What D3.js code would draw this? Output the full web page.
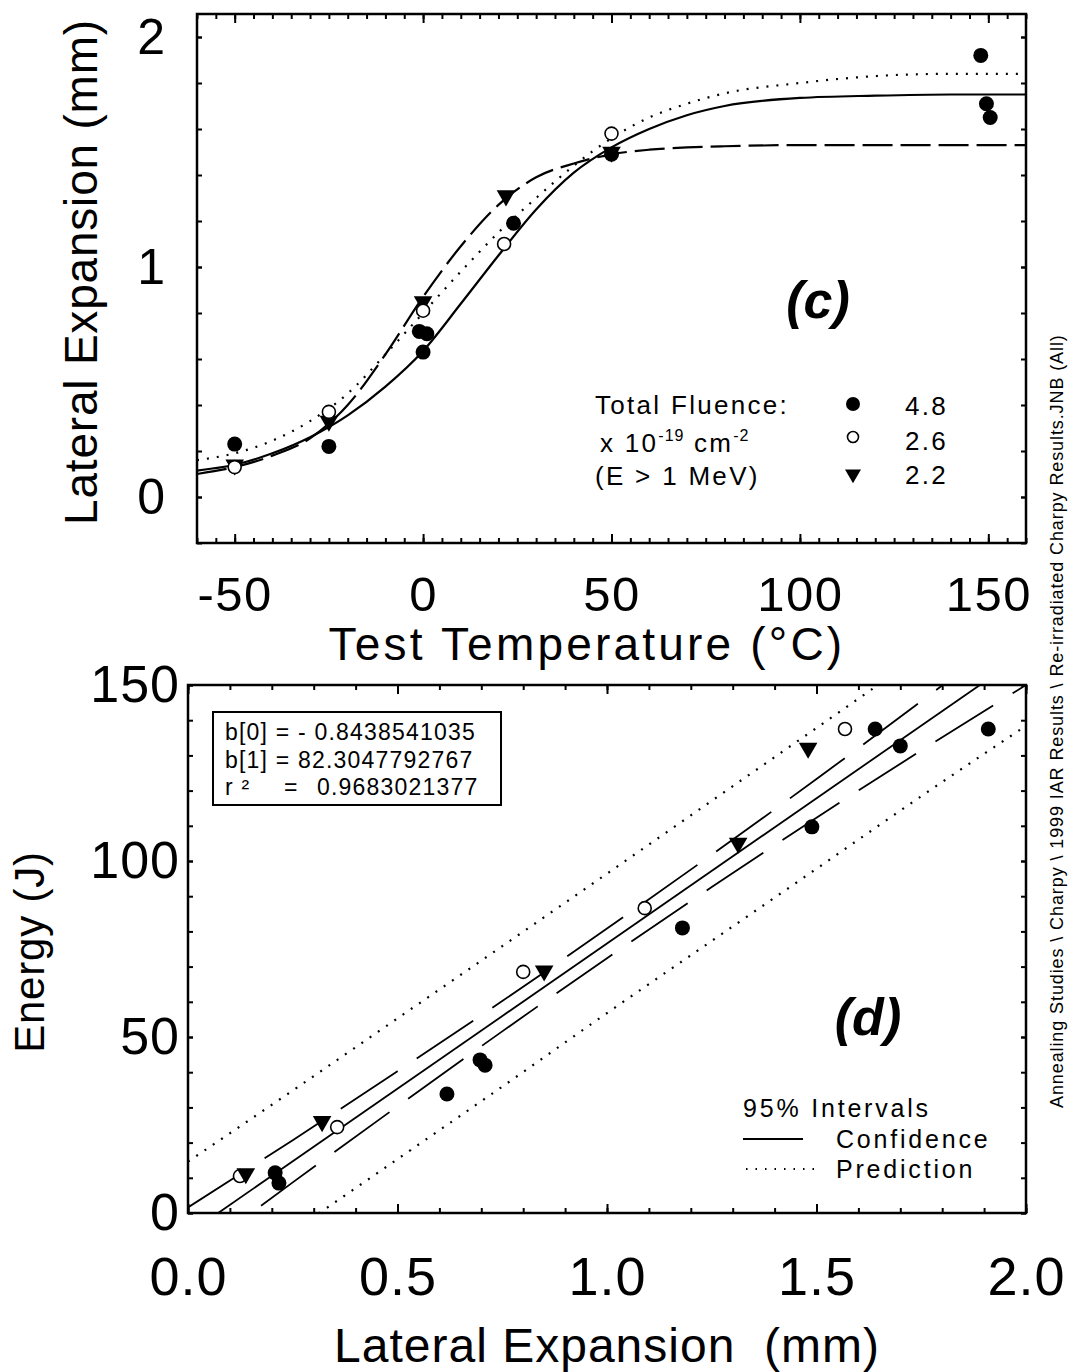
<!DOCTYPE html>
<html>
<head>
<meta charset="utf-8">
<script src="https://cdn.jsdelivr.net/npm/d3@7"></script>
<style>
body { margin: 0; background: #fff; }
text { font-family: "Liberation Sans", Arial, sans-serif; fill: #000; }
</style>
</head>
<body>
<svg id="chart" width="1069" height="1372"></svg>
<script>
// ---- panel (c): lateral expansion vs test temperature ----
let fullT = [-50, -25, -1, 1, 0, 24, 50, 148, 149.5, 150.5];
let fullLE = [0.23, 0.22, 0.72, 0.71, 0.63, 1.19, 1.49, 1.92, 1.71, 1.65];
let openT = [-50, -25, 0, 21.5, 50];
let openLE = [0.13, 0.37, 0.81, 1.10, 1.58];
let triT = [-50, -25, 0, 22, 50];
let triLE = [0.14, 0.33, 0.85, 1.31, 1.50];

// fitted curves
let curveT = [-60, -50, -40, -30, -20, -10, 0, 10, 20, 30, 40, 50, 60, 70, 80, 100, 120, 140, 160];
let fit48 = [0.115, 0.14, 0.19, 0.26, 0.355, 0.48, 0.635, 0.84, 1.05, 1.25, 1.41, 1.52, 1.60, 1.66, 1.70, 1.735, 1.745, 1.75, 1.75];
let fit26 = [0.16, 0.19, 0.245, 0.33, 0.45, 0.62, 0.80, 0.98, 1.15, 1.30, 1.44, 1.56, 1.65, 1.71, 1.755, 1.80, 1.83, 1.84, 1.84];
let fit22 = [0.10, 0.13, 0.18, 0.255, 0.40, 0.62, 0.87, 1.09, 1.27, 1.39, 1.45, 1.49, 1.51, 1.52, 1.525, 1.53, 1.53, 1.53, 1.53];

let tempTicks = [-50, 0, 50, 100, 150];
let leTicks = [0, 1, 2];
let fluence = ["4.8", "2.6", "2.2"];

// ---- panel (d): energy vs lateral expansion ----
let fullX = [0.208, 0.217, 0.618, 0.697, 0.709, 1.18, 1.489, 1.64, 1.70, 1.91];
let fullE = [11.4, 8.5, 33.8, 43.5, 42.0, 81.0, 109.7, 137.5, 132.7, 137.5];
let openX = [0.124, 0.356, 0.80, 1.09, 1.568];
let openE = [10.5, 24.4, 68.5, 86.6, 137.5];
let triX = [0.138, 0.32, 0.85, 1.313, 1.48];
let triE = [11.2, 26.0, 68.8, 105.1, 132.1];

let regX = [0.072, 1.89];
let regE = [0, 150];
let bandX = [0, 0.25, 0.5, 0.75, 1.0, 1.25, 1.5, 1.75, 2.0];
let confHi = [1.6, 20.7, 40.3, 60.2, 80.8, 101.8, 123.3, 145.4, 168];
let confLo = [-13.4, 8.7, 30.3, 51.6, 72.4, 92.6, 112.3, 131.4, 150];
let predHi = [14.6, 34.8, 55.3, 75.8, 96.4, 117.1, 137.8, 158.6, 179.6];
let predLo = [-26.4, -5.3, 15.3, 35.9, 56.8, 77.3, 97.8, 118.4, 138.4];

let leTicksD = [0, 0.5, 1, 1.5, 2];
let energyTicks = [0, 50, 100, 150];
let boxLines = ["b[0] = - 0.8438541035", "b[1] = 82.3047792767"];
let rSquared = "0.9683021377";

let sideNote = "Annealing Studies \\ Charpy \\ 1999 IAR Results \\ Re-irradiated Charpy Results.JNB (All)";

var svg = d3.select("#chart");
svg.append("rect").attr("width", 1069).attr("height", 1372).attr("fill", "#fff");

var xc = d3.scaleLinear().domain([-60, 160]).range([197, 1026]);
var yc = d3.scaleLinear().domain([-0.2, 2.1]).range([543, 14]);
var xd = d3.scaleLinear().domain([0, 2]).range([188, 1026]);
var yd = d3.scaleLinear().domain([0, 150]).range([1213, 685]);

// draw inward ticks on all four sides plus the frame
function frame(x, y, xMinor, xMajor, yMinor, yMajor) {
	var x0 = x.range()[0], x1 = x.range()[1], y0 = y.range()[0], y1 = y.range()[1];
	var sets = [[xMinor, 5], [xMajor, 9]];
	sets.forEach(function(s) {
		svg.append("g").attr("class", "tk").attr("transform", "translate(0," + y0 + ")")
			.call(d3.axisBottom(x).tickValues(s[0]).tickSize(-s[1]).tickFormat(""));
		svg.append("g").attr("class", "tk").attr("transform", "translate(0," + y1 + ")")
			.call(d3.axisTop(x).tickValues(s[0]).tickSize(-s[1]).tickFormat(""));
	});
	[[yMinor, 5], [yMajor, 5]].forEach(function(s) {
		svg.append("g").attr("class", "tk").attr("transform", "translate(" + x0 + ",0)")
			.call(d3.axisLeft(y).tickValues(s[0]).tickSize(-s[1]).tickFormat(""));
		svg.append("g").attr("class", "tk").attr("transform", "translate(" + x1 + ",0)")
			.call(d3.axisRight(y).tickValues(s[0]).tickSize(-s[1]).tickFormat(""));
	});
	svg.selectAll(".tk .domain").remove();
	svg.selectAll(".tk line").attr("stroke", "#000").attr("stroke-width", 2);
	svg.append("rect").attr("x", x0).attr("y", y1).attr("width", x1 - x0).attr("height", y0 - y1)
		.attr("fill", "none").attr("stroke", "#000").attr("stroke-width", 2.5);
}

function clip(id, x, y) {
	svg.append("clipPath").attr("id", id).append("rect")
		.attr("x", x.range()[0]).attr("y", y.range()[1])
		.attr("width", x.range()[1] - x.range()[0]).attr("height", y.range()[0] - y.range()[1]);
}

function styleLabels(g, size) {
	g.select(".domain").remove();
	g.selectAll("line").remove();
	g.selectAll("text").attr("font-size", size).attr("font-family", "Liberation Sans, Arial, sans-serif");
}

var triangle = d3.symbol().type(d3.symbolTriangle).size(150);

function marks(kind, xs, ys, x, y) {
	var pts = xs.map(function(v, i) { return [v, ys[i]]; });
	var g = svg.append("g");
	if (kind == "full") {
		g.selectAll("circle").data(pts).join("circle")
			.attr("cx", d => x(d[0])).attr("cy", d => y(d[1])).attr("r", 7.5).attr("fill", "#000");
	} else if (kind == "open") {
		g.selectAll("circle").data(pts).join("circle")
			.attr("cx", d => x(d[0])).attr("cy", d => y(d[1])).attr("r", 6.5)
			.attr("fill", "#fff").attr("stroke", "#000").attr("stroke-width", 1.6);
	} else {
		g.selectAll("path").data(pts).join("path")
			.attr("d", triangle)
			.attr("transform", d => "translate(" + x(d[0]) + "," + y(d[1]) + ") rotate(180)")
			.attr("fill", "#000");
	}
}

// ================= panel (c) =================
clip("clipC", xc, yc);
var lineC = d3.line().curve(d3.curveMonotoneX).x(d => xc(d[0])).y(d => yc(d[1]));
[[fit48, null], [fit26, "2,8"], [fit22, "30,8"]].forEach(function(f) {
	svg.append("path")
		.datum(curveT.map((t, i) => [t, f[0][i]]))
		.attr("clip-path", "url(#clipC)")
		.attr("fill", "none").attr("stroke", "#000").attr("stroke-width", 2.2)
		.attr("stroke-dasharray", f[1])
		.attr("d", lineC);
});

frame(xc, yc, d3.range(-60, 161, 5), tempTicks, d3.range(-0.2, 2.01, 0.2), leTicks);

marks("full", fullT, fullLE, xc, yc);
marks("tri", triT, triLE, xc, yc);
marks("open", openT, openLE, xc, yc);

var gx = svg.append("g").attr("transform", "translate(0,543)")
	.call(d3.axisBottom(xc).tickValues(tempTicks).tickSize(0).tickPadding(33).tickFormat(d => String(d)));
styleLabels(gx, 49);
gx.selectAll("text").attr("letter-spacing", 1.5);
var gy = svg.append("g").attr("transform", "translate(197,0)")
	.call(d3.axisLeft(yc).tickValues(leTicks).tickSize(0).tickPadding(32).tickFormat(d => String(d)));
styleLabels(gy, 50);

svg.append("text").attr("x", 587).attr("y", 660).attr("text-anchor", "middle")
	.attr("font-size", 46).attr("letter-spacing", 3.2).text("Test Temperature (°C)");
svg.append("text").attr("transform", "translate(97,272) rotate(-90)").attr("text-anchor", "middle")
	.attr("font-size", 46).attr("letter-spacing", 0.8).text("Lateral Expansion (mm)");

svg.append("text").attr("x", 818).attr("y", 318).attr("text-anchor", "middle")
	.attr("font-size", 52).attr("font-weight", "bold").attr("font-style", "italic").text("(c)");

// legend of panel (c)
var lg = svg.append("g").attr("font-size", 26).attr("letter-spacing", 2.3);
lg.append("text").attr("x", 595).attr("y", 414).text("Total Fluence:");
var l2 = lg.append("text").attr("x", 600).attr("y", 452);
l2.append("tspan").text("x 10");
l2.append("tspan").attr("font-size", 16).attr("dy", -11).attr("letter-spacing", 1).text("-19");
l2.append("tspan").attr("dy", 11).text(" cm");
l2.append("tspan").attr("font-size", 16).attr("dy", -11).attr("letter-spacing", 1).text("-2");
lg.append("text").attr("x", 595).attr("y", 485).text("(E > 1 MeV)");
fluence.forEach(function(f, i) {
	lg.append("text").attr("x", 905).attr("y", [415, 450, 484][i]).text(f);
});
svg.append("circle").attr("cx", 853).attr("cy", 404).attr("r", 7).attr("fill", "#000");
svg.append("circle").attr("cx", 853).attr("cy", 437).attr("r", 5.5).attr("fill", "#fff")
	.attr("stroke", "#000").attr("stroke-width", 1.6);
svg.append("path").attr("d", d3.symbol().type(d3.symbolTriangle).size(110))
	.attr("transform", "translate(853,474) rotate(180)").attr("fill", "#000");

// ================= panel (d) =================
clip("clipD", xd, yd);
var lineD = d3.line().curve(d3.curveMonotoneX).x(d => xd(d[0])).y(d => yd(d[1]));
svg.append("path").datum(regX.map((v, i) => [v, regE[i]]))
	.attr("clip-path", "url(#clipD)").attr("fill", "none").attr("stroke", "#000")
	.attr("stroke-width", 1.8).attr("d", lineD);
[[confHi, "68,23"], [confLo, "68,23"], [predHi, "2,8"], [predLo, "2,8"]].forEach(function(b) {
	svg.append("path").datum(bandX.map((v, i) => [v, b[0][i]]))
		.attr("clip-path", "url(#clipD)").attr("fill", "none").attr("stroke", "#000")
		.attr("stroke-width", b[1] == "2,8" ? 2.2 : 1.8).attr("stroke-dasharray", b[1])
		.attr("d", lineD);
});

frame(xd, yd, d3.range(0, 2.001, 0.1), leTicksD, d3.range(0, 151, 10), energyTicks);

marks("full", fullX, fullE, xd, yd);
marks("open", openX, openE, xd, yd);
marks("tri", triX, triE, xd, yd);

var gx2 = svg.append("g").attr("transform", "translate(0,1213)")
	.call(d3.axisBottom(xd).tickValues(leTicksD).tickSize(0).tickPadding(44).tickFormat(d3.format(".1f")));
styleLabels(gx2, 54);
gx2.selectAll("text").attr("letter-spacing", 1);
var gy2 = svg.append("g").attr("transform", "translate(188,0)")
	.call(d3.axisLeft(yd).tickValues(energyTicks).tickSize(0).tickPadding(8).tickFormat(d => String(d)));
styleLabels(gy2, 52);
gy2.selectAll("text").attr("letter-spacing", 1);

svg.append("text").attr("x", 607).attr("y", 1362).attr("text-anchor", "middle")
	.attr("font-size", 48).attr("letter-spacing", 1).attr("xml:space", "preserve")
	.style("white-space", "pre").text("Lateral Expansion  (mm)");
svg.append("text").attr("transform", "translate(44,952) rotate(-90)").attr("text-anchor", "middle")
	.attr("font-size", 42).attr("letter-spacing", 0.8).text("Energy (J)");

svg.append("text").attr("x", 868).attr("y", 1035).attr("text-anchor", "middle")
	.attr("font-size", 52).attr("font-weight", "bold").attr("font-style", "italic").text("(d)");

// regression box
svg.append("rect").attr("x", 213).attr("y", 712).attr("width", 288).attr("height", 93)
	.attr("fill", "#fff").attr("stroke", "#000").attr("stroke-width", 2);
var bx = svg.append("g").attr("font-size", 23).attr("letter-spacing", 1.2);
boxLines.forEach(function(s, i) {
	bx.append("text").attr("x", 225).attr("y", 740 + i * 27.5).text(s);
});
bx.append("text").attr("x", 225).attr("y", 795).text("r ²");
bx.append("text").attr("x", 284).attr("y", 795).text("=");
bx.append("text").attr("x", 317).attr("y", 795).text(rSquared);

// legend of panel (d)
var lg2 = svg.append("g").attr("font-size", 25).attr("letter-spacing", 2.8);
lg2.append("text").attr("x", 743).attr("y", 1117).text("95% Intervals");
lg2.append("text").attr("x", 836).attr("y", 1148).text("Confidence");
lg2.append("text").attr("x", 836).attr("y", 1178).text("Prediction");
svg.append("line").attr("x1", 743).attr("x2", 803).attr("y1", 1139).attr("y2", 1139)
	.attr("stroke", "#000").attr("stroke-width", 1.8);
svg.append("line").attr("x1", 746).attr("x2", 818).attr("y1", 1169).attr("y2", 1169)
	.attr("stroke", "#000").attr("stroke-width", 1.8).attr("stroke-dasharray", "1.5,8");

// file path note at the right edge
svg.append("text").attr("transform", "translate(1063,1108) rotate(-90)")
	.attr("font-size", 18).attr("letter-spacing", 0.9).text(sideNote);
</script>
</body>
</html>
